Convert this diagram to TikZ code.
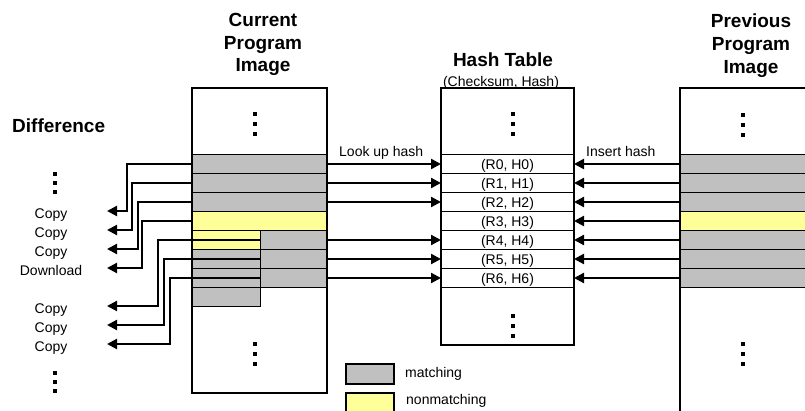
\documentclass[tikz,border=0pt]{standalone}
\usepackage{fontspec}
\setmainfont{Liberation Sans}
\usetikzlibrary{arrows.meta}
\definecolor{matchgray}{HTML}{C0C0C0}
\definecolor{nomatchyellow}{HTML}{FFFF99}
\newcommand\vdgap{10}
\tikzset{
  vgap/.code={\renewcommand\vdgap{#1}},
  % three small squares stacked vertically
  vellip/.pic={\foreach \k in {-1,0,1}{\fill (-2,{\k*\vdgap-2}) rectangle ++(4,4);}},
}
\begin{document}
\begin{tikzpicture}[x=1pt,y=-1pt,
  frame/.style={draw=black,line width=1.3pt,inner sep=0pt,outer sep=0pt,anchor=north west},
  cellbase/.style={draw=black,line width=0.9pt,inner sep=0pt,outer sep=0pt,anchor=north west,minimum height=19pt},
  gcell/.style={cellbase,fill=matchgray},
  ycell/.style={cellbase,fill=nomatchyellow},
  hcell/.style={cellbase,fill=white,minimum width=133pt,text height=12pt,text depth=0pt,font=\fontsize{14}{16}\selectfont},
  link/.style={line width=2.2pt,-{Triangle[length=10pt,width=10pt]}},
  heading/.style={font=\fontsize{19}{22.7}\selectfont\bfseries,align=center,inner sep=0pt},
  lbl/.style={font=\fontsize{14}{16}\selectfont,inner sep=0pt},
]
\clip (0,0) rectangle (805,411);

% current program image
\node[gcell,minimum width=135pt] (c0) at (192,154.5) {};
\node[gcell,minimum width=135pt] (c1) at (192,173.5) {};
\node[gcell,minimum width=135pt] (c2) at (192,192.5) {};
\node[ycell,minimum width=135pt] (c3) at (192,211.5) {};
\node[gcell,minimum width=67pt] (c4) at (260,230.5) {};
\node[gcell,minimum width=67pt] (c5) at (260,249.5) {};
\node[gcell,minimum width=67pt] (c6) at (260,268.5) {};
\node[ycell,minimum width=68pt] (l4) at (192,230.5) {};
\node[gcell,minimum width=68pt] (l5) at (192,249.5) {};
\node[gcell,minimum width=68pt] (l6) at (192,268.5) {};
\node[gcell,minimum width=68pt] (l7) at (192,287.5) {};
\node[frame,minimum width=135pt,minimum height=305pt] (cur) at (192,88) {};

% hash table
\foreach \k in {0,...,6}
  \node[hcell] (h\k) at (441,{154.5+19*\k}) {(R\k, H\k)};
\node[frame,minimum width=133pt,minimum height=257pt] (hash) at (441,88) {};

% previous program image
\node[gcell,minimum width=140pt] (p0) at (680,154.5) {};
\node[gcell,minimum width=140pt] (p1) at (680,173.5) {};
\node[gcell,minimum width=140pt] (p2) at (680,192.5) {};
\node[ycell,minimum width=140pt] (p3) at (680,211.5) {};
\node[gcell,minimum width=140pt] (p4) at (680,230.5) {};
\node[gcell,minimum width=140pt] (p5) at (680,249.5) {};
\node[gcell,minimum width=140pt] (p6) at (680,268.5) {};
\node[frame,minimum width=140pt,minimum height=340pt] (prev) at (680,88) {};

% headings
\node[heading,anchor=north] (tcur) at (263,13) {Current\\Program\\Image};
\node[heading,anchor=north] (tprev) at (751,14) {Previous\\Program\\Image};
\node[heading,anchor=north] (thash) at (503,53) {Hash Table};
\node[lbl,anchor=base] (tsub) at (501,86.5) {(Checksum, Hash)};
\node[heading,anchor=base west] (tdiff) at (12,133) {Difference};
\node[lbl,anchor=base west] (tlook) at (339,157) {Look up hash};
\node[lbl,anchor=base west] (tins) at (586,156.5) {Insert hash};

% hash lookups and inserts
\foreach \k in {0,1,2,4,5,6}
  \draw[link] (c\k.east) -- (h\k.west);
\foreach \k in {0,...,6}
  \draw[link] (p\k.west) -- (h\k.east);

% difference operations
\foreach \k/\y/\txt in {0/211/Copy,1/230/Copy,2/249/Copy,3/268/Download,4/306/Copy,5/325/Copy,6/344/Copy}{
  \coordinate (d\k) at (107,\y);
  \node[lbl,anchor=base] (op\k) at (51,{\y+7.5}) {\txt};
}
\draw[link] (c0.west) -- ++(-65,0) |- (d0);
\draw[link] (c1.west) -- ++(-60,0) |- (d1);
\draw[link] (c2.west) -- ++(-54,0) |- (d2);
\draw[link] (c3.west) -- ++(-50,0) |- (d3);
\draw[link] (c4.west) -- ++(-102,0) |- (d4);
\draw[link] (c5.west) -- ++(-96,0) |- (d5);
\draw[link] (c6.west) -- ++(-90,0) |- (d6);

% elided regions
\pic at (255,124.5) {vellip};
\pic at (255,354) {vellip};
\pic at (513,124.5) {vellip};
\pic at (513,325.5) {vellip};
\pic at (743,125) {vellip};
\pic at (743,353.5) {vellip};
\pic[vgap=9] at (55,183) {vellip};
\pic[vgap=9] at (55,382) {vellip};

% legend
\node[gcell,line width=1.2pt,minimum width=48pt,minimum height=20pt] (lgm) at (346,364) {};
\node[lbl,anchor=west] (lgmt) at (405,374) {matching};
\node[ycell,line width=1.2pt,minimum width=48pt,minimum height=24pt] (lgn) at (346,393) {};
\node[lbl,anchor=west] (lgnt) at (406,401) {nonmatching};
\end{tikzpicture}
\end{document}
